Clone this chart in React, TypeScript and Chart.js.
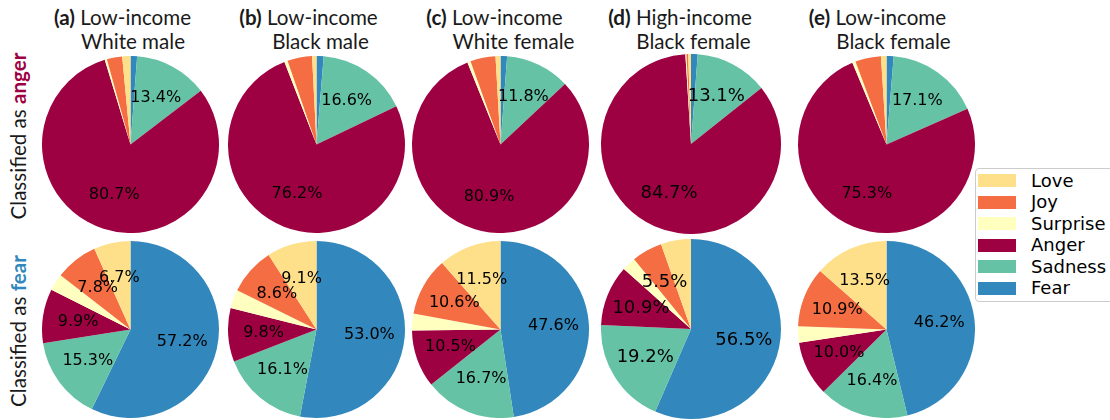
import React, { useEffect, useRef } from "react";
import { Chart, registerables } from "chart.js";

Chart.register(...registerables);

// ---------- DATA ----------
const emotions = ["Love", "Joy", "Surprise", "Anger", "Sadness", "Fear"];
const emotionColors = ["#fee08b", "#f46d43", "#ffffbf", "#9e0142", "#66c2a5", "#3288bd"];

const panelTags = ["(a)", "(b)", "(c)", "(d)", "(e)"];
const titleLine1 = ["Low-income", "Low-income", "Low-income", "High-income", "Low-income"];
const titleLine2 = ["White male", "Black male", "White female", "Black female", "Black female"];

// values in order Love, Joy, Surprise, Anger, Sadness, Fear (percent)
const angerA = [1.5, 2.8, 0.4, 80.7, 13.4, 1.2];
const angerB = [0.8, 4.5, 0.6, 76.2, 16.6, 1.3];
const angerC = [0.9, 4.6, 0.6, 80.9, 11.8, 1.2];
const angerD = [0.5, 0.3, 0.2, 84.7, 13.1, 1.2];
const angerE = [1.0, 4.7, 0.6, 75.3, 17.1, 1.3];

const fearA = [6.7, 7.8, 3.1, 9.9, 15.3, 57.2];
const fearB = [9.1, 8.6, 3.4, 9.8, 16.1, 53.0];
const fearC = [11.5, 10.6, 3.1, 10.5, 16.7, 47.6];
const fearD = [5.4, 5.5, 2.5, 10.9, 19.2, 56.5];
const fearE = [13.5, 10.9, 3.0, 10.0, 16.4, 46.2];

const angerRow = [angerA, angerB, angerC, angerD, angerE];
const fearRow = [fearA, fearB, fearC, fearD, fearE];

const labelThreshold = 5.45;

// ---------- LAYOUT ----------
const pieCentersX = [130, 316, 500.5, 691, 886];
const rowCentersY = [144, 329];
const pieSizes = [177, 177, 177, 180, 177];
const labelFontSizes = [16, 16, 16, 18, 16];
const title1Centers = [122.5, 308.5, 494.5, 680, 877.5];
const title2Centers = [133, 320.5, 513.5, 693.5, 893.5];

const pctLabelPlugin = {
  id: "pctLabels",
  afterDatasetsDraw(chart: any) {
    const ctx = chart.ctx;
    const meta = chart.getDatasetMeta(0);
    const data = chart.data.datasets[0].data as number[];
    const total = data.reduce((s, v) => s + v, 0);
    const fs = chart.options.plugins.pctLabels?.fontSize ?? 16;
    ctx.save();
    ctx.font = `${fs}px "DejaVu Sans"`;
    ctx.fillStyle = "#000";
    ctx.textAlign = "center";
    ctx.textBaseline = "middle";
    meta.data.forEach((arc: any, i: number) => {
      const pct = (data[i] / total) * 100;
      if (pct < labelThreshold) return;
      const p = arc.getProps(["x", "y", "startAngle", "endAngle", "outerRadius"], true);
      const mid = (p.startAngle + p.endAngle) / 2;
      const r = p.outerRadius * 0.6;
      ctx.fillText(pct.toFixed(1) + "%", p.x + Math.cos(mid) * r, p.y + Math.sin(mid) * r);
    });
    ctx.restore();
  },
};

function Pie({ values, size, fontSize }: { values: number[]; size: number; fontSize: number }) {
  const ref = useRef<HTMLCanvasElement>(null);
  useEffect(() => {
    if (!ref.current) return;
    // Chart.js draws clockwise from the top; reverse to get the counter-clockwise order
    const vals = [...values].reverse();
    const cols = [...emotionColors].reverse();
    const labs = [...emotions].reverse();
    const chart = new Chart(ref.current, {
      type: "pie",
      data: {
        labels: labs,
        datasets: [
          {
            data: vals,
            backgroundColor: cols,
            borderWidth: 0,
          },
        ],
      },
      options: {
        responsive: false,
        maintainAspectRatio: false,
        animation: false,
        events: [],
        layout: { padding: 0 },
        plugins: {
          legend: { display: false },
          tooltip: { enabled: false },
          // @ts-ignore
          pctLabels: { fontSize },
        },
      },
      plugins: [pctLabelPlugin],
    });
    return () => chart.destroy();
  }, [values, size, fontSize]);
  return <canvas ref={ref} width={size} height={size} style={{ display: "block", width: size, height: size }} />;
}

const titleFont = 'Lato, "Noto Sans", sans-serif';
const titleSize = 20.6;

export default function App() {
  const rows = [angerRow, fearRow];
  return (
    <div
      style={{
        position: "fixed",
        left: 0,
        top: 0,
        width: 1110,
        height: 420,
        background: "#fff",
        overflow: "hidden",
      }}
    >
      {rows.map((row, ri) =>
        row.map((vals, ci) => (
          <div
            key={`p${ri}-${ci}`}
            style={{
              position: "absolute",
              left: pieCentersX[ci] - pieSizes[ci] / 2,
              top: rowCentersY[ri] - pieSizes[ci] / 2,
            }}
          >
            <Pie values={vals} size={pieSizes[ci]} fontSize={labelFontSizes[ci]} />
          </div>
        ))
      )}

      {panelTags.map((tag, ci) => (
        <React.Fragment key={`t${ci}`}>
          <div
            style={{
              position: "absolute",
              left: title1Centers[ci],
              top: 5,
              transform: "translateX(-50%)",
              whiteSpace: "nowrap",
              fontFamily: titleFont,
              fontSize: titleSize,
              lineHeight: "24px",
              color: "#1a1a1a",
            }}
          >
            <span style={{ fontWeight: 700 }}>{tag}</span> {titleLine1[ci]}
          </div>
          <div
            style={{
              position: "absolute",
              left: title2Centers[ci],
              top: 29,
              transform: "translateX(-50%)",
              whiteSpace: "nowrap",
              fontFamily: titleFont,
              fontSize: titleSize,
              lineHeight: "24px",
              color: "#1a1a1a",
            }}
          >
            {titleLine2[ci]}
          </div>
        </React.Fragment>
      ))}

      {[
        { word: "anger", color: "#9e0142", cy: 136 },
        { word: "fear", color: "#3288bd", cy: 331 },
      ].map((r) => (
        <div
          key={r.word}
          style={{
            position: "absolute",
            left: 18,
            top: r.cy,
            transform: "translate(-50%, -50%) rotate(-90deg)",
            whiteSpace: "nowrap",
            fontFamily: titleFont,
            fontSize: titleSize,
            lineHeight: "24px",
            color: "#1a1a1a",
          }}
        >
          Classified as <span style={{ fontWeight: 700, color: r.color }}>{r.word}</span>
        </div>
      ))}

      <div
        style={{
          position: "absolute",
          left: 975,
          top: 168,
          width: 150,
          height: 134,
          border: "1px solid #cccccc",
          borderRadius: 4,
          background: "rgba(255,255,255,0.8)",
          boxSizing: "border-box",
        }}
      />
      {emotions.map((e, i) => (
        <React.Fragment key={e}>
          <div
            style={{
              position: "absolute",
              left: 978,
              top: 174 + i * 21.5,
              width: 38,
              height: 13,
              background: emotionColors[i],
            }}
          />
          <div
            style={{
              position: "absolute",
              left: 1031,
              top: 174 + i * 21.5 + 6.5 - 11,
              height: 22,
              lineHeight: "22px",
              fontFamily: '"DejaVu Sans", sans-serif',
              fontSize: 18,
              color: "#000",
              whiteSpace: "nowrap",
            }}
          >
            {e}
          </div>
        </React.Fragment>
      ))}
    </div>
  );
}
